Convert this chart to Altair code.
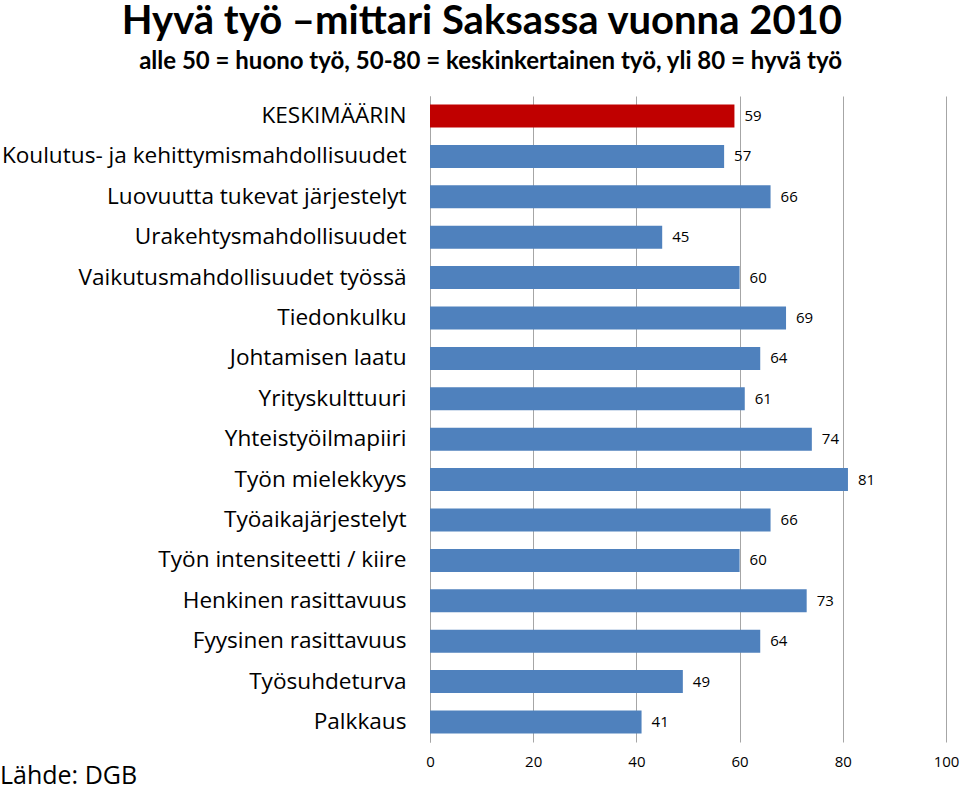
import altair as alt
import pandas as pd

categories = [
    "KESKIMÄÄRIN",
    "Koulutus- ja kehittymismahdollisuudet",
    "Luovuutta tukevat järjestelyt",
    "Urakehtysmahdollisuudet",
    "Vaikutusmahdollisuudet työssä",
    "Tiedonkulku",
    "Johtamisen laatu",
    "Yrityskulttuuri",
    "Yhteistyöilmapiiri",
    "Työn mielekkyys",
    "Työaikajärjestelyt",
    "Työn intensiteetti / kiire",
    "Henkinen rasittavuus",
    "Fyysinen rasittavuus",
    "Työsuhdeturva",
    "Palkkaus",
]
values = [59, 57, 66, 45, 60, 69, 64, 61, 74, 81, 66, 60, 73, 64, 49, 41]
highlight = ["avg"] + ["item"] * 15
source_text = ["Lähde: DGB"]

df = pd.DataFrame({"cat": categories, "val": values, "kind": highlight})
src = pd.DataFrame({"t": source_text})

FONT = "Open Sans"
TFONT = "Lato"

y = alt.Y("cat:N", sort=categories, title=None,
          scale=alt.Scale(paddingInner=0.43, paddingOuter=0.21),
          axis=alt.Axis(labelFontSize=22.6, labelFont=FONT, labelColor="black",
                        labelPadding=24, ticks=False, domain=True,
                        domainColor="#a6a6a6", labelLimit=500))
x = alt.X("val:Q", title=None,
          scale=alt.Scale(domain=[0, 100], nice=False),
          axis=alt.Axis(values=[0, 20, 40, 60, 80, 100], grid=True,
                        gridColor="#a6a6a6", domain=False, ticks=False,
                        labelFlush=False,
                        labelFontSize=15, labelFont=FONT, labelColor="black",
                        labelPadding=12))

bars = alt.Chart(df).mark_bar().encode(
    x=x, y=y,
    color=alt.Color("kind:N", scale=alt.Scale(domain=["avg", "item"],
                                               range=["#c00000", "#4f81bd"]),
                    legend=None),
)

labels = alt.Chart(df).mark_text(align="left", baseline="middle", dx=10,
                                 fontSize=15, font=FONT, color="black").encode(
    x="val:Q", y=alt.Y("cat:N", sort=categories), text="val:Q"
)

source = alt.Chart(src).mark_text(align="left", baseline="alphabetic",
                                  fontSize=25, font=FONT, color="black").encode(
    x=alt.value(-430), y=alt.value(688), text="t:N"
)

chart = alt.layer(bars, labels, source).properties(
    width=516, height=646,
    padding={"left": 430, "top": 96, "right": 14, "bottom": 46},
    autosize=alt.AutoSizeParams(type="none"),
    title=alt.TitleParams(
        "Hyvä työ –mittari Saksassa vuonna 2010",
        subtitle="alle 50 = huono työ, 50-80 = keskinkertainen työ, yli 80 = hyvä työ",
        anchor="end", frame="group", dx=-104, offset=22,
        font=TFONT, fontSize=40, fontWeight="bold", color="black",
        subtitleFont=TFONT, subtitleFontSize=24, subtitleFontWeight="bold",
        subtitleColor="black", subtitlePadding=8,
    ),
).configure_view(stroke=None)

chart.save("out.html", embed_options={"renderer": "svg", "actions": False})
